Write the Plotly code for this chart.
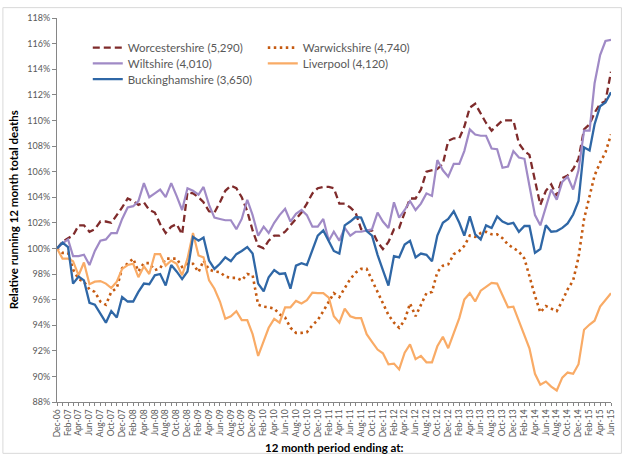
import pandas as pd
import plotly.graph_objects as go

# ---- data ----
months = pd.date_range("2006-12-01", periods=103, freq="MS")

worcestershire = [
    100.0, 100.5, 100.8, 101.0, 101.8, 101.8, 101.3, 101.5, 102.1, 102.1,
    102.0, 102.6, 103.2, 103.9, 103.7, 103.4, 103.6, 103.0, 102.8, 101.9,
    101.2, 101.7, 101.9, 101.1, 104.4, 104.3, 104.0, 103.6, 102.9, 102.8,
    103.6, 104.5, 104.9, 104.7, 104.0, 102.9, 101.4, 100.2, 100.0, 100.6,
    101.0, 101.0, 101.3, 101.8, 102.3, 102.8, 103.5, 104.3, 104.7, 104.8,
    104.8, 104.7, 103.5, 103.5, 103.2, 102.8, 101.5, 101.4, 101.4, 100.5,
    99.95, 100.5, 101.5, 101.6, 102.8, 103.9, 103.9, 104.6, 106.0, 106.1,
    106.2, 106.6, 108.4, 108.6, 108.6, 109.5, 111.0, 111.3, 110.5, 109.8,
    109.2, 109.6, 110.0, 110.0, 110.0, 108.2, 107.6, 107.3, 105.4, 103.4,
    104.5, 105.0, 104.1, 105.5, 105.7, 106.2, 107.0, 109.3, 109.7, 110.6,
    111.3, 111.5, 113.8,
]
warwickshire = [
    100.0, 99.65, 99.65, 98.35, 97.6, 97.4, 96.8, 96.6, 95.85, 95.6,
    96.6, 96.9, 98.45, 98.8, 99.2, 98.2, 98.85, 98.85, 98.3, 98.45,
    99.2, 99.2, 99.2, 98.55, 98.8, 98.8, 98.15, 99.05, 98.35, 98.2,
    98.15, 97.8, 97.7, 97.7, 97.5, 98.0, 97.9, 95.6, 95.45, 95.4,
    95.3, 94.85, 94.6, 93.8, 93.4, 93.4, 93.45, 94.0, 94.4, 95.1,
    95.8, 96.5, 96.2, 96.85, 97.6, 98.1, 98.4, 98.4, 97.5, 96.5,
    95.7, 94.8, 94.2, 93.8, 94.4, 95.7, 94.7, 95.6, 96.5, 96.6,
    98.15, 98.65, 98.75, 99.55, 99.8, 100.2, 101.0, 100.9, 101.2, 101.3,
    101.1, 101.1, 100.8, 100.3, 100.0, 99.75, 99.2, 97.8, 96.3, 95.0,
    95.5, 95.3, 95.1, 95.9, 96.8, 97.5, 99.3, 102.3, 104.1, 105.7,
    106.7, 107.5, 108.9,
]
wiltshire = [
    100.0, 100.4, 100.7, 99.4, 99.4, 99.5, 98.7, 99.8, 100.6, 100.7,
    101.2, 101.2, 102.3, 103.2, 103.3, 103.7, 105.1, 104.0, 104.3, 104.6,
    104.0, 105.1, 104.1, 103.0, 104.7, 104.5, 104.2, 104.8, 103.4, 102.4,
    102.3, 102.2, 102.2, 101.5, 102.3, 103.8, 102.6, 101.0, 101.7, 101.2,
    102.0, 102.6, 103.1, 102.1, 102.7, 103.0, 102.6, 101.7, 101.7, 102.3,
    100.6, 101.3, 100.6, 101.6, 101.0, 101.3, 101.3, 101.4, 101.5, 102.8,
    102.1, 101.6, 103.6, 102.4, 103.0, 103.7, 103.0, 103.5, 104.3, 104.1,
    106.9, 106.1, 105.6, 106.6, 106.6, 107.6, 109.3, 108.9, 108.8, 108.8,
    107.8, 107.75, 106.3, 106.4, 107.6, 107.1, 107.0, 104.9, 102.6, 101.8,
    103.2, 104.6, 103.8, 105.2, 105.6, 104.6, 106.1, 109.2, 109.2, 112.9,
    115.1, 116.2, 116.3,
]
liverpool = [
    100.0, 99.2, 99.2, 99.0, 97.9, 98.9, 97.2, 97.4, 97.45, 97.25,
    96.9, 97.4, 98.4, 98.7, 98.8, 97.75, 98.6, 98.0, 99.55, 99.55,
    98.65, 99.05, 98.8, 97.9, 99.2, 101.2, 99.45, 99.3, 97.5, 96.85,
    95.85, 94.5, 94.7, 95.1, 94.4, 94.4, 93.3, 91.6, 92.75, 93.8,
    94.5, 94.2, 95.4, 95.4, 95.9, 95.7, 95.95, 96.55, 96.5, 96.5,
    96.15, 94.7, 94.2, 95.3, 94.7, 94.55, 94.55, 93.3, 92.7, 92.1,
    91.8, 90.95, 91.0, 90.55, 91.85, 92.5, 91.35, 91.6, 91.1, 91.1,
    92.35, 93.1, 92.2, 93.4, 94.55, 96.0, 96.5, 95.85, 96.7, 97.0,
    97.3, 97.25, 96.35, 95.4, 95.45, 94.3, 93.3, 92.2, 90.2, 89.35,
    89.6, 89.2, 88.9, 89.9, 90.3, 90.2, 90.95, 93.65, 94.05, 94.35,
    95.45, 96.0, 96.5,
]
buckinghamshire = [
    100.0, 100.45, 100.1, 97.25, 97.8, 97.5, 95.75, 95.6, 94.9, 94.2,
    95.1, 94.6, 96.2, 95.85, 95.85, 96.6, 97.25, 97.2, 97.9, 98.0,
    97.1, 98.7, 98.2, 97.6, 98.2, 100.9, 100.6, 100.85, 99.05, 98.4,
    98.8, 99.3, 99.0, 99.55, 99.8, 100.1, 99.6, 97.25, 96.65, 97.75,
    98.3, 98.0, 98.05, 96.85, 98.65, 98.85, 98.7, 99.95, 101.0, 101.4,
    100.6, 99.8, 99.6, 101.8, 102.1, 102.45, 102.4, 101.35, 101.0, 99.5,
    98.3, 97.1, 99.4, 99.3, 100.3, 100.6, 99.3, 99.6, 99.5, 99.0,
    101.0, 102.0, 102.3, 102.9, 102.0, 101.0, 102.5, 101.1, 100.7, 101.8,
    101.6, 102.5, 102.1, 101.9, 102.0, 101.3, 101.75, 101.75, 99.65, 99.95,
    101.8, 101.3, 101.35, 101.6, 101.95, 102.65, 103.7, 107.9, 107.65, 109.7,
    111.1, 111.4, 112.2,
]

series_names = ["Worcestershire (5,290)", "Warwickshire (4,740)", "Wiltshire (4,010)",
                "Liverpool (4,120)", "Buckinghamshire (3,650)"]
y_ticks = list(range(88, 119, 2))
y_tick_labels = [f"{v}%" for v in y_ticks]

# ---- styles ----
styles = [
    dict(data=worcestershire, color="#7f2b2b", width=2.3, dash="7px,4px", legend="legend"),
    dict(data=warwickshire, color="#c55a11", width=2.6, dash="2.5px,3.5px", legend="legend"),
    dict(data=wiltshire, color="#a08ac6", width=2.2, dash="solid", legend="legend2"),
    dict(data=liverpool, color="#f9ab66", width=2.2, dash="solid", legend="legend2"),
    dict(data=buckinghamshire, color="#2f67a6", width=2.3, dash="solid", legend="legend3"),
]

fig = go.Figure()
for name, st in zip(series_names, styles):
    fig.add_trace(go.Scatter(
        x=months, y=st["data"], name=name, mode="lines",
        line=dict(color=st["color"], width=st["width"], dash=st["dash"]),
        legend=st["legend"],
    ))

W, H = 628, 457
ml, mr, mt, mb = 57, 13, 13, 55
pw, ph = W - ml - mr, H - mt - mb

def px_x(p):
    return (p - ml) / pw

def px_y(p):
    return (H - mb - p) / ph

legend_common = dict(
    orientation="h", entrywidth=130, entrywidthmode="pixels",
    font=dict(family="Lato", size=11.5, color="#595959"),
    bgcolor="rgba(0,0,0,0)", xanchor="left", yanchor="middle",
    itemwidth=30, traceorder="normal",
)

fig.update_layout(
    width=W, height=H,
    margin=dict(l=ml, r=mr, t=mt, b=mb),
    paper_bgcolor="white", plot_bgcolor="white",
    font=dict(family="Lato", color="#595959"),
    showlegend=True,
    legend=dict(x=px_x(88), y=px_y(43), **legend_common),
    legend2=dict(x=px_x(88), y=px_y(59), **legend_common),
    legend3=dict(x=px_x(88), y=px_y(75), **legend_common),
    xaxis=dict(
        type="date", range=[months[0], months[-1]],
        tickformat="%b-%y", dtick="M2", tick0=months[0],
        tickangle=-90, tickfont=dict(size=8.5, color="#595959"),
        ticks="outside", ticklen=3, tickcolor="#868686",
        minor=dict(dtick="M1", ticks="outside", ticklen=3, tickcolor="#868686"),
        showline=True, linecolor="#868686", linewidth=1,
        showgrid=False, zeroline=False,
    ),
    yaxis=dict(
        range=[88, 118], tickmode="array", tickvals=y_ticks, ticktext=y_tick_labels,
        tickfont=dict(size=9, color="#595959"),
        ticks="outside", ticklen=4, tickcolor="#868686",
        showline=True, linecolor="#868686", linewidth=1,
        showgrid=False, zeroline=False,
    ),
    annotations=[
        dict(text="<b>Relative running 12 month total deaths</b>", textangle=-90,
             xref="paper", yref="paper", x=px_x(13), y=0.5, showarrow=False,
             xanchor="center", yanchor="middle",
             font=dict(family="Lato", size=11.5, color="#000000")),
        dict(text="<b>12 month period ending at:</b>",
             xref="paper", yref="paper", x=0.5, y=px_y(448), showarrow=False,
             xanchor="center", yanchor="middle",
             font=dict(family="Lato", size=11.5, color="#000000")),
    ],
    shapes=[
        dict(type="rect", xref="paper", yref="paper",
             x0=px_x(2.5), x1=px_x(625.5), y0=px_y(454), y1=px_y(2.5),
             line=dict(color="#d9d9d9", width=1), fillcolor="rgba(0,0,0,0)", layer="below"),
    ],
)

fig.write_html("out.html", config={"displayModeBar": False},
               post_script="document.body.style.margin='0';document.body.style.overflow='hidden';")
